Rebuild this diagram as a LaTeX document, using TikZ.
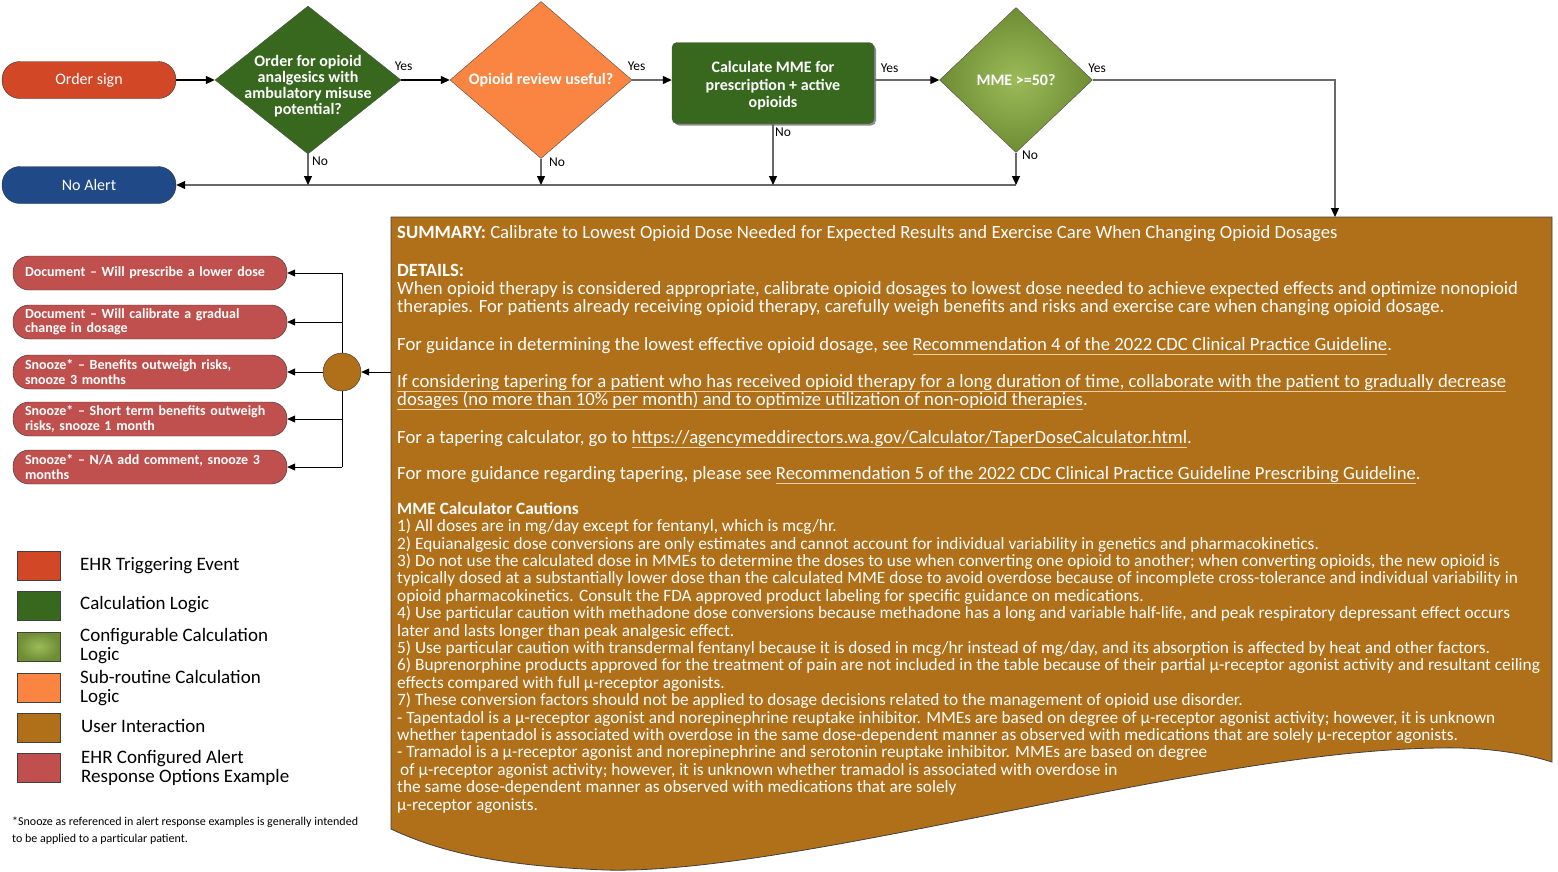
\documentclass[tikz,border=0pt]{standalone}
\usepackage{fontspec}
\setmainfont{Carlito}
\usepackage{tikz}
\usetikzlibrary{arrows.meta, shapes.geometric, shadows, positioning}

\definecolor{trigred}{RGB}{210,71,38}
\definecolor{calcgreen}{RGB}{56,104,30}
\definecolor{cfglight}{RGB}{155,187,89}
\definecolor{cfgdark}{RGB}{110,141,52}
\definecolor{suborange}{RGB}{250,132,66}
\definecolor{userbrown}{RGB}{176,111,25}
\definecolor{respred}{RGB}{192,80,77}
\definecolor{alertblue}{RGB}{32,74,135}
\definecolor{linegray}{RGB}{105,105,105}
\definecolor{linktan}{RGB}{232,208,170}

% underlined link text with one steady rule
\newcommand{\ulink}[1]{\textcolor{linktan}{\underline{\textcolor{white}{\smash{#1}\vphantom{gy}}}}}

\begin{document}
\begin{tikzpicture}[
    x=1pt, y=-1pt,
    font=\fontsize{16}{18}\selectfont,
    pill/.style={draw=black!80, rounded corners=18pt, minimum width=174pt, minimum height=37pt, inner sep=0pt, text=white},
    decision/.style={draw=black!70, diamond, inner sep=-6pt, align=center, text=white, font=\fontsize{16}{16}\selectfont\bfseries},
    flow/.style={draw=linegray, line width=1.2pt, -{Triangle[length=9pt, width=8pt, color=black]}},
    lbl/.style={inner sep=1.5pt, font=\fontsize{13.5}{14}\selectfont},
    option/.style={draw=black!80, fill=respred, rounded corners=16pt, minimum height=34pt, text width=250pt, inner xsep=12pt, inner ysep=0pt, align=left, text=white, font=\fontsize{14}{14.5}\selectfont\bfseries},
    tree/.style={draw=black, line width=0.8pt},
    treearrow/.style={tree, -{Triangle[length=8pt, width=7pt]}},
    swatch/.style={draw=black!75, minimum width=43pt, minimum height=29pt, inner sep=0pt},
    key/.style={anchor=west, align=left, inner sep=0pt, font=\fontsize{19}{19}\selectfont},
    body/.style={anchor=base west, align=left, inner sep=0pt, text=white, font=\fontsize{18.7}{18}\selectfont}
]
\useasboundingbox (0,0) rectangle (1558,871);

% Top row of the flow
\node[pill, fill=trigred] (order) at (89,80) {Order sign};

\node[decision, fill=calcgreen, aspect=1.3, inner sep=-10pt, minimum width=186pt, minimum height=148pt] (q1) at (308,80)
    {\rule{0pt}{24pt}Order for opioid\\analgesics with\\ambulatory misuse\\potential?};

\node[decision, fill=suborange, minimum width=182pt, minimum height=157pt] (q2) at (541,80)
    {Opioid review useful?};

\node[
draw=black!70,
fill=calcgreen,
rounded corners=5pt,
minimum width=202pt,
minimum height=81pt,
align=center,
text=white,
font=\fontsize{16}{17.5}\selectfont\bfseries,
drop shadow={shadow xshift=2pt, shadow yshift=-2pt, fill=black!45, opacity=1}
] (calc) at (773,83) {\rule{0pt}{17pt}Calculate MME for\\prescription + active\\opioids};

\node[decision, inner color=cfglight, outer color=cfgdark, minimum width=153pt, minimum height=145pt] (mme) at (1016,80)
    {MME >=50?};

\node[pill, fill=alertblue] (noalert) at (89,185) {No Alert};

% Summary document with wavy bottom
\coordinate (docnw) at (391,217);
\coordinate (docin) at (1335,217);
\draw[draw=black!75, fill=userbrown, line width=0.8pt] (docnw) -- (1552,217) -- (1552,762)
    .. controls (1520,752) and (1480,747) .. (1440,748)
    .. controls (1200,750) and (800,875) .. (606,870)
    .. controls (500,866) and (440,852) .. (391,829) -- cycle;

% Yes path
\draw[flow, draw=black] (order) -- (q1);
\draw[flow, draw=black] (q1) -- node[lbl, pos=0, anchor=south west, xshift=-8.5pt, yshift=7pt] (yes1) {Yes} (q2);
\draw[flow] (q2) -- node[lbl, pos=0, anchor=south west, xshift=-6.5pt, yshift=7pt] (yes2) {Yes} (q2 -| calc.west);
\draw[flow] (calc.east |- mme) -- node[lbl, pos=0, anchor=south west, xshift=4.5pt, yshift=5pt] (yes3) {Yes} (mme);
\draw[flow] (mme) -| node[lbl, pos=0, anchor=south west, xshift=-6.5pt, yshift=5pt] (yes4) {Yes} (docin);

% No path
\draw[flow] (mme |- noalert) -- (noalert);
\draw[flow] (q1) -- node[lbl, pos=0, anchor=north west, xshift=2pt, yshift=-1pt] (no1) {No} (q1 |- noalert);
\draw[flow] (q2) -- node[lbl, pos=0, anchor=west, xshift=6pt, yshift=-4pt] (no2) {No} (q2 |- noalert);
\draw[flow] (calc) -- node[lbl, pos=0, anchor=north west, xshift=0pt, yshift=-2pt] (no3) {No} (calc |- noalert);
\draw[flow] (mme) -- node[lbl, pos=0, anchor=north west, xshift=4pt, yshift=4pt] (no4) {No} (mme |- noalert);

% Alert response options
\node[option] (opt1) at (150,273) {Document – Will prescribe a lower dose};
\node[option] (opt2) at (150,322) {Document – Will calibrate a gradual\\change in dosage};
\node[option] (opt3) at (150,372) {Snooze* – Benefits outweigh risks,\\snooze 3 months};
\node[option] (opt4) at (150,419) {Snooze* – Short term benefits outweigh\\risks, snooze 1 month};
\node[option] (opt5) at (150,467) {Snooze* – N/A add comment, snooze 3\\months};

\node[circle, draw=black!80, fill=userbrown, minimum size=38pt, inner sep=0pt] (hub) at (342,372) {};

\draw[tree] (hub.north) -- (hub |- opt1);
\draw[tree] (hub.south) -- (hub |- opt5);
\foreach \i in {1,2,4,5}
    \draw[treearrow] (hub |- opt\i) -- (opt\i);
\draw[treearrow] (hub) -- (opt3);
\draw[treearrow] (docnw |- hub) -- (hub);

% Summary text (base = last line)
\node[body] (summary) at (397,238) {\textbf{SUMMARY:} Calibrate to Lowest Opioid Dose Needed for Expected Results and Exercise Care When Changing Opioid Dosages};
\node[body] (details) at (397,312) {\textbf{DETAILS:}\\
When opioid therapy is considered appropriate, calibrate opioid dosages to lowest dose needed to achieve expected effects and optimize nonopioid\\
therapies. For patients already receiving opioid therapy, carefully weigh benefits and risks and exercise care when changing opioid dosage.};
\node[body] (guide) at (397,350) {For guidance in determining the lowest effective opioid dosage, see \ulink{Recommendation 4 of the 2022 CDC Clinical Practice Guideline}.};
\node[body] (taper) at (397,405) {\ulink{If considering tapering for a patient who has received opioid therapy for a long duration of time, collaborate with the patient to gradually decrease}\\
\ulink{dosages (no more than 10\% per month) and to optimize utilization of non-opioid therapies}.};
\node[body] (calculator) at (397,443) {For a tapering calculator, go to \ulink{https://agencymeddirectors.wa.gov/Calculator/TaperDoseCalculator.html}.};
\node[body] (more) at (397,479) {For more guidance regarding tapering, please see \ulink{Recommendation 5 of the 2022 CDC Clinical Practice Guideline Prescribing Guideline}.};

\node[body, font=\fontsize{17.3}{17.4}\selectfont] (cautions) at (397,810) {\textbf{MME Calculator Cautions}\\
1) All doses are in mg/day except for fentanyl, which is mcg/hr.\\
2) Equianalgesic dose conversions are only estimates and cannot account for individual variability in genetics and pharmacokinetics.\\
3) Do not use the calculated dose in MMEs to determine the doses to use when converting one opioid to another; when converting opioids, the new opioid is\\
typically dosed at a substantially lower dose than the calculated MME dose to avoid overdose because of incomplete cross-tolerance and individual variability in\\
opioid pharmacokinetics. Consult the FDA approved product labeling for specific guidance on medications.\\
4) Use particular caution with methadone dose conversions because methadone has a long and variable half-life, and peak respiratory depressant effect occurs\\
later and lasts longer than peak analgesic effect.\\
5) Use particular caution with transdermal fentanyl because it is dosed in mcg/hr instead of mg/day, and its absorption is affected by heat and other factors.\\
6) Buprenorphine products approved for the treatment of pain are not included in the table because of their partial µ-receptor agonist activity and resultant ceiling\\
effects compared with full µ-receptor agonists.\\
7) These conversion factors should not be applied to dosage decisions related to the management of opioid use disorder.\\
- Tapentadol is a µ-receptor agonist and norepinephrine reuptake inhibitor. MMEs are based on degree of µ-receptor agonist activity; however, it is unknown\\
whether tapentadol is associated with overdose in the same dose-dependent manner as observed with medications that are solely µ-receptor agonists.\\
- Tramadol is a µ-receptor agonist and norepinephrine and serotonin reuptake inhibitor. MMEs are based on degree\\
\hspace*{3pt}of µ-receptor agonist activity; however, it is unknown whether tramadol is associated with overdose in\\
the same dose-dependent manner as observed with medications that are solely\\
µ-receptor agonists.};

% Legend
\node[swatch, fill=trigred] (sw1) at (38.5,566) {};
\node[swatch, fill=calcgreen] (sw2) at (38.5,606) {};
\node[swatch, inner color=cfglight, outer color=cfgdark] (sw3) at (38.5,646.5) {};
\node[swatch, fill=suborange] (sw4) at (38.5,687.5) {};
\node[swatch, fill=userbrown] (sw5) at (38.5,727.5) {};
\node[swatch, fill=respred] (sw6) at (38.5,768) {};

\node[key] (key1) at (80,566) {EHR Triggering Event};
\node[key] (key2) at (80,605) {Calculation Logic};
\node[key] (key3) at (80,646) {Configurable Calculation\\Logic};
\node[key] (key4) at (80,688) {Sub-routine Calculation\\Logic};
\node[key] (key5) at (81,726) {User Interaction};
\node[key] (key6) at (81,768) {EHR Configured Alert\\Response Options Example};

\node[anchor=north west, align=left, inner sep=0pt, font=\fontsize{12}{17}\selectfont] (note) at (12,817)
    {*Snooze as referenced in alert response examples is generally intended\\to be applied to a particular patient.};

\end{tikzpicture}
\end{document}
